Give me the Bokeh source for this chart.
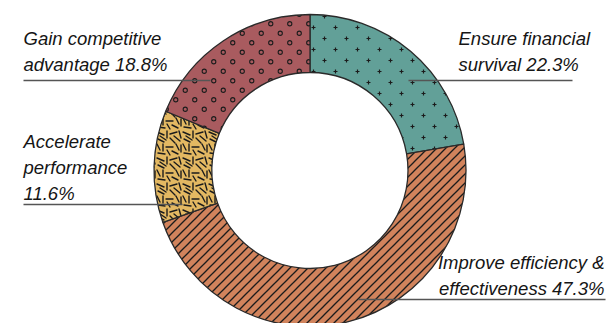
import base64
from bokeh.plotting import figure
from bokeh.models import ColumnDataSource, Range1d, ImageURLTexture
from bokeh.core.properties import value
from bokeh.embed import file_html
from bokeh.resources import INLINE
import numpy as np

# ---- data ----
categories = ["Ensure financial\nsurvival 22.3%",
              "Improve efficiency &\neffectiveness 47.3%",
              "Accelerate\nperformance\n11.6%",
              "Gain competitive\nadvantage 18.8%"]
shares = [22.3, 47.3, 11.6, 18.8]
colors = ["#62a098", "#d1835c", "#e3b862", "#a95b5f"]
patterns = ["plus_tex", "diag_tex", "dash_tex", "ring_tex"]

# ---- textures ----
def svg_uri(svg):
    return "data:image/svg+xml;base64," + base64.b64encode(svg.encode()).decode()

INK = "#1b1b1b"
plus_svg = ("<svg xmlns='http://www.w3.org/2000/svg' width='22' height='22'>"
            f"<path d='M3.5 5.5 H7.5 M5.5 3.5 V7.5 M14.5 16.5 H18.5 M16.5 14.5 V18.5' "
            f"stroke='{INK}' stroke-width='1.2' fill='none'/></svg>")
ring_svg = ("<svg xmlns='http://www.w3.org/2000/svg' width='19' height='19'>"
            f"<g stroke='{INK}' stroke-width='1.1' fill='none'>"
            "<circle cx='4.75' cy='4.75' r='2.1'/><circle cx='14.25' cy='14.25' r='2.1'/></g></svg>")
diag_svg = ("<svg xmlns='http://www.w3.org/2000/svg' width='9' height='9'>"
            f"<g stroke='{INK}' stroke-width='1.3' fill='none'>"
            "<path d='M0 9 L9 0'/><path d='M-1 1 L1 -1'/><path d='M8 10 L10 8'/></g></svg>")
dash_svg = ("<svg xmlns='http://www.w3.org/2000/svg' width='26' height='26'>"
            f"<g stroke='{INK}' stroke-width='1.4' fill='none' stroke-linecap='round'>"
            "<path d='M1 2 L8 5'/><path d='M11 1 L11 8'/><path d='M14 4 L21 2'/>"
            "<path d='M23 1 L25 8'/><path d='M2 9 L8 12'/><path d='M14 8 L19 13'/>"
            "<path d='M18 6 L24 11'/><path d='M1 14 L4 20'/><path d='M7 14 L7 21'/>"
            "<path d='M10 17 L17 17'/><path d='M20 14 L23 20'/><path d='M25 15 L25 22'/>"
            "<path d='M2 23 L9 24'/><path d='M11 20 L14 25'/><path d='M16 21 L22 24'/>"
            "<path d='M4 6 L10 10'/>"
            "</g></svg>")
extra = {"plus_tex": ImageURLTexture(url=svg_uri(plus_svg), repetition="repeat"),
         "ring_tex": ImageURLTexture(url=svg_uri(ring_svg), repetition="repeat"),
         "diag_tex": ImageURLTexture(url=svg_uri(diag_svg), repetition="repeat"),
         "dash_tex": ImageURLTexture(url=svg_uri(dash_svg), repetition="repeat")}

# ---- geometry / layout ----
W, H = 609, 323
cx, cy = 309.5, H - 170
r_in, r_out = 98, 156

fr = np.array(shares) / sum(shares)
cum = np.concatenate([[0], np.cumsum(fr)])
start = np.pi / 2 - 2 * np.pi * cum[:-1]
end = np.pi / 2 - 2 * np.pi * cum[1:]

src = ColumnDataSource(dict(start=start, end=end, color=colors, pattern=patterns))

p = figure(width=W, height=H, x_range=Range1d(0, W), y_range=Range1d(0, H),
           output_backend="svg", toolbar_location=None,
           x_axis_location=None, y_axis_location=None, min_border=0)
p.grid.visible = False
p.outline_line_color = None
p.background_fill_color = "white"

p.annular_wedge(x=cx, y=cy, inner_radius=r_in, outer_radius=r_out,
                start_angle="start", end_angle="end", direction="clock",
                fill_color="color", line_color="#2a2a2a", line_width=1.3,
                hatch_pattern="pattern", hatch_extra=extra, source=src)

# label layout (screen coords: x, first baseline, align) and leader lines
label_x = [458, 604, 23, 23]
label_y0 = [38, 262, 141, 38]
label_align = ["left", "right", "left", "left"]
line_x0 = [408, 358, 23, 23]
line_x1 = [572, 605, 182, 210]
line_y = [80, 299, 204, 80]
lh = 26

tx, ty, tt, ta = [], [], [], []
for cat, x, y0, al in zip(categories, label_x, label_y0, label_align):
    for i, ln in enumerate(cat.split("\n")):
        tx.append(x); ty.append(H - (y0 + i * lh)); tt.append(ln); ta.append(al)
p.text(x=tx, y=ty, text=tt, text_align=ta, text_baseline="alphabetic",
       text_font=value("Liberation Sans"), text_font_style="italic",
       text_font_size="18.5px", text_color="#151515")

p.segment(x0=line_x0, x1=line_x1, y0=[H - v for v in line_y], y1=[H - v for v in line_y],
          line_color="#555555", line_width=1.5)

open("out.html", "w").write(file_html(p, INLINE))
